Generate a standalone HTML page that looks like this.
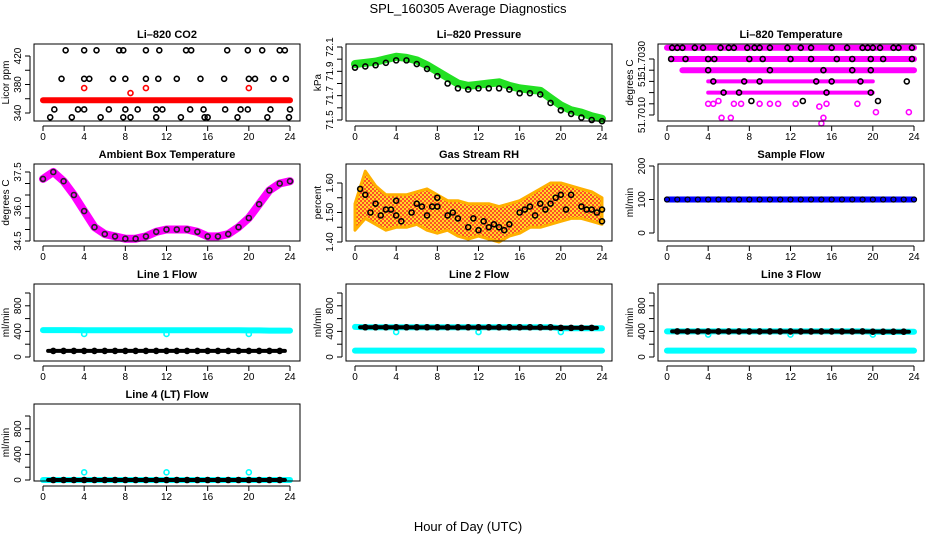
<!DOCTYPE html>
<html><head><meta charset="utf-8"><style>
html,body{margin:0;padding:0;background:#fff;}
svg{display:block;font-family:"Liberation Sans",sans-serif;}
</style></head><body>
<svg id="c" width="936" height="540">
<defs>
<pattern id="rhpat" width="4" height="4" patternUnits="userSpaceOnUse">
<rect width="4" height="4" fill="#ffd000"/>
<rect x="0" y="0" width="2" height="2" fill="#ff3000"/>
<rect x="2" y="2" width="2" height="2" fill="#ff3000"/>
</pattern>
</defs>
<text x="468" y="13" text-anchor="middle" font-size="13">SPL_160305  Average Diagnostics</text>
<text x="468" y="531" text-anchor="middle" font-size="13">Hour of Day (UTC)</text>
</svg>
<script>
// ---------- data ----------
const hours=[0,1,2,3,4,5,6,7,8,9,10,11,12,13,14,15,16,17,18,19,20,21,22,23,24];
const xTicks=[0,4,8,12,16,20,24];
// CO2
const co2BandVals=[358,358,358,358,358,358,358,358,358,358,358,358,358,358,358,358,358,358,358,358,358,358,358,358,358];
const co2RedX=[4,8.5,10,20];
const co2RedY=[375,368,375,375];
const co2BlackX=[2.2,4,5.2,7.4,7.8,10,11.3,13.9,14.4,17.9,19.9,21.3,23,23.5,1.8,4,4.5,6.8,8,10,11.2,13,15.3,17.6,20,20.6,22.4,23.6,1.1,3.4,4,6.4,8,9.2,11,11.6,14.3,15.6,17.7,19.2,19.9,22.1,24,0.7,2.8,5.6,7.8,8.5,11,13.4,15.7,16,18.9,21.8,23.9];
const co2BlackY=[428,428,428,428,428,428,428,428,428,428,428,428,428,428,388,388,388,388,388,388,388,388,388,388,388,388,388,388,345,345,345,345,345,345,345,345,345,345,345,345,345,345,345,334,334,334,334,334,334,334,334,334,334,334,334];
// Pressure
const presGreen=[71.96,71.97,71.98,72.0,72.02,72.01,71.99,71.95,71.9,71.85,71.8,71.78,71.79,71.8,71.81,71.78,71.76,71.75,71.74,71.68,71.62,71.58,71.56,71.53,71.51];
const presBlack=[71.93,71.94,71.95,71.97,71.99,71.99,71.96,71.92,71.86,71.8,71.76,71.75,71.76,71.76,71.76,71.75,71.72,71.72,71.71,71.64,71.58,71.55,71.52,71.5,71.49];
// Li-820 temperature (levels)
const tempSegStart=[0,0.5,1.5,4,4];
const tempSegEnd=[24,24,24,20,20];
const tempSegLvl=[51.7034,51.7030,51.7026,51.7022,51.7018];
const tempMagX=[4,4.5,5,6.5,7.2,9,10,10.8,12.5,14.8,15.5,18.5,20.3,23.5,5.3,6.2,15,15.2];
const tempMagY=[51.7014,51.7014,51.7015,51.7014,51.7014,51.7014,51.7014,51.7014,51.7014,51.7013,51.7014,51.7014,51.7011,51.7011,51.7009,51.7009,51.7007,51.7009];
const tempBlackX=[0.5,1,1.5,2.7,3.5,5.2,6,6.5,7.8,8.5,9,10,11.7,13,14,16,17.5,19,19.5,20,20.7,22,22.5,23.8,0.4,1.8,4,4.6,8,9.3,12,14,16.5,18,19.8,21,23.8,4,10,15.2,18,19.8,4.5,7.5,9,14.5,16,18.8,23.3,5.5,7,15.5,19.8,8.2,13.2,20.5];
const tempBlackY=[51.7034,51.7034,51.7034,51.7034,51.7034,51.7034,51.7034,51.7034,51.7034,51.7034,51.7034,51.7034,51.7034,51.7034,51.7034,51.7034,51.7034,51.7034,51.7034,51.7034,51.7034,51.7034,51.7034,51.7034,51.7030,51.7030,51.7030,51.7030,51.7030,51.7030,51.7030,51.7030,51.7030,51.7030,51.7030,51.7030,51.7030,51.7026,51.7026,51.7026,51.7026,51.7026,51.7022,51.7022,51.7022,51.7022,51.7022,51.7022,51.7022,51.7018,51.7018,51.7018,51.7018,51.7015,51.7015,51.7015];
// Ambient box temperature
const ambVals=[37.2,37.5,37.1,36.5,35.8,35.1,34.8,34.7,34.6,34.6,34.7,34.9,35.0,35.0,35.0,34.9,34.7,34.7,34.8,35.1,35.5,36.1,36.7,37.0,37.1];
// Gas stream RH
const rhLow=[1.44,1.48,1.46,1.44,1.45,1.45,1.46,1.44,1.43,1.44,1.42,1.41,1.42,1.41,1.40,1.42,1.43,1.45,1.45,1.46,1.47,1.48,1.48,1.47,1.46];
const rhHigh=[1.53,1.64,1.59,1.56,1.56,1.56,1.57,1.58,1.56,1.54,1.54,1.53,1.53,1.53,1.52,1.53,1.54,1.56,1.58,1.60,1.60,1.59,1.58,1.57,1.55];
const rhBlackX=[0.5,1,1.5,2,2.5,3,3.5,4,4,4.5,5.5,6,6.5,7,7.5,8,8,9,9.5,10,11,11.5,12,12.5,13,13.5,14,14.5,15,16,16.5,17,17.5,18,18.5,19,19.5,20,20.5,21,22,22.5,23,23.5,24,24];
const rhBlackY=[1.58,1.56,1.50,1.53,1.49,1.51,1.51,1.49,1.54,1.47,1.50,1.53,1.52,1.49,1.52,1.52,1.55,1.49,1.50,1.48,1.45,1.48,1.44,1.47,1.45,1.46,1.45,1.44,1.46,1.50,1.51,1.52,1.49,1.53,1.51,1.53,1.55,1.56,1.51,1.56,1.52,1.51,1.51,1.50,1.51,1.47];
// Flows
const sampleFlow=[100,100,100,100,100,100,100,100,100,100,100,100,100,100,100,100,100,100,100,100,100,100,100,100,100];
const l1Cyan=[420,420,420,420,418,418,418,418,418,418,418,418,418,418,418,418,418,418,418,418,415,415,412,412,412];
const l1Black=[95,95,95,95,95,95,95,95,95,95,95,95,95,95,95,95,95,95,95,95,95,95,95,95,95];
const l2CyanHi=[470,465,465,465,465,465,465,465,465,465,465,465,465,465,465,465,465,465,465,465,450,450,450,450,450];
const l2CyanLo=[100,100,100,100,100,100,100,100,100,100,100,100,100,100,100,100,100,100,100,100,100,100,100,100,100];
const l2Black=[465,465,465,465,465,465,465,465,465,465,465,465,465,465,465,465,465,465,465,465,455,455,455,455,455];
const l3CyanHi=[400,400,400,400,400,400,400,400,400,400,400,400,400,400,400,400,400,400,400,400,395,395,395,395,395];
const l3CyanLo=[100,100,100,100,100,100,100,100,100,100,100,100,100,100,100,100,100,100,100,100,100,100,100,100,100];
const l3Black=[400,400,400,400,400,400,400,400,400,400,400,400,400,400,400,400,400,400,400,400,395,395,395,395,395];
const l4Cyan=[0,0,0,0,0,0,0,0,0,0,0,0,0,0,0,0,0,0,0,0,0,0,0,0,0];
const l4Black=[0,0,0,0,0,0,0,0,0,0,0,0,0,0,0,0,0,0,0,0,0,0,0,0,0];
const dipX=[4,12,20];
const l1DipY=[360,360,360];
const l2DipY=[390,390,390];
const l3DipY=[350,350,350];
const l4OutY=[120,120,120];

// ---------- drawing ----------
const svg=document.getElementById('c');
const NS='http://www.w3.org/2000/svg';
function mk(tag,attrs,parent){const e=document.createElementNS(NS,tag);for(const k in attrs)e.setAttribute(k,attrs[k]);(parent||svg).appendChild(e);return e;}
const colX=[43,355,667];
const rowTop=[44,164,284,404];
const rowBot=[121,241,361,481];
function panel(col,row,title,ylab,yMin,yMax,yLoPix,yHiPix,ticks,tickLabels,name){
  const g=mk('g',{});
  
  
  const x0=colX[col],L=x0-9,R=x0+257,T=rowTop[row],B=rowBot[row];
  const sx=h=>x0+h*247/24;
  const sy=v=>yLoPix+(v-yMin)*(yHiPix-yLoPix)/(yMax-yMin);
  const t=mk('text',{x:(L+R)/2,y:T-6,'text-anchor':'middle','font-size':11,'font-weight':'bold'},g);t.textContent=title;
  
  const pg=mk('g',{},g);
  const box=mk('rect',{x:L,y:T,width:R-L,height:B-T,fill:'none',stroke:'#000','stroke-width':1},g);
  
  const xa=mk('g',{},g);
  mk('line',{x1:sx(0),x2:sx(24),y1:B+5,y2:B+5,stroke:'#000'},xa);
  xTicks.forEach(h=>{mk('line',{x1:sx(h),x2:sx(h),y1:B+5,y2:B+10,stroke:'#000'},xa);
    const tl=mk('text',{x:sx(h),y:B+19,'text-anchor':'middle','font-size':10},xa);tl.textContent=h;});
  const ya=mk('g',{},g);
  const ax=L-4;
  mk('line',{x1:ax,x2:ax,y1:sy(ticks[0]),y2:sy(ticks[ticks.length-1]),stroke:'#000'},ya);
  ticks.forEach((v,i)=>{mk('line',{x1:ax,x2:ax-5,y1:sy(v),y2:sy(v),stroke:'#000'},ya);
    if(tickLabels[i]!==''){const tl=mk('text',{x:ax-9,y:sy(v),'text-anchor':'middle','font-size':10,transform:`rotate(-90 ${ax-9} ${sy(v)})`},ya);tl.textContent=tickLabels[i];}});
  const yl=mk('text',{x:L-25,y:(T+B)/2,'text-anchor':'middle','font-size':10,transform:`rotate(-90 ${L-25} ${(T+B)/2})`},ya);yl.textContent=ylab;
  
  return {g:pg,sx,sy};
}
function pts(p,xs,ys,color,name,r,sw,fill){
  const gg=mk('g',{},p.g);
  
  
  xs.forEach((x,i)=>{mk('circle',{cx:p.sx(x),cy:p.sy(ys[i]),r:r||2.5,fill:fill||'none',stroke:color,'stroke-width':sw||1.6},gg);});
}
function band(p,xs,ys,color,name,w){
  const d=xs.map((x,i)=>(i?'L':'M')+p.sx(x).toFixed(1)+','+p.sy(ys[i]).toFixed(1)).join('');
  const e=mk('path',{d:d,fill:'none',stroke:color,'stroke-width':w||7,'stroke-linejoin':'round','stroke-linecap':'round'},p.g);
  
  
}
const flowTicks=[0,200,400,600,800,1000];
const flowLabels=['0','','400','','800',''];

let p=panel(0,0,'Li–820 CO2','Licor ppm',340,420,113,56,[340,360,380,400,420],['340','','380','','420'],'co2');
band(p,hours,co2BandVals,'#ff0000','co2-red-band',6);
pts(p,co2RedX,co2RedY,'#ff0000','co2-red-points');
pts(p,co2BlackX,co2BlackY,'#000','co2-black-points');

p=panel(1,0,'Li–820 Pressure','kPa',71.5,72.1,120,47,[71.5,71.6,71.7,71.8,71.9,72.0,72.1],['71.5','','71.7','','71.9','','72.1'],'pressure');
band(p,hours,presGreen,'#22e022','pressure-green-band',8);
pts(p,hours,presBlack,'#000','pressure-black-points');

p=panel(2,0,'Li–820 Temperature','degrees C',51.7010,51.7030,115,59,[51.7010,51.7014,51.7018,51.7022,51.7026,51.7030],['51.7010','','','51','','51.7030'],'li820-temp');
tempSegStart.forEach((s,i)=>{band(p,[s,tempSegEnd[i]],[tempSegLvl[i],tempSegLvl[i]],'#ff00ff','temp-magenta-row',i>2?4:6);});
pts(p,tempMagX,tempMagY,'#ff00ff','temp-magenta-points');
pts(p,tempBlackX,tempBlackY,'#000','temp-black-points');

p=panel(0,1,'Ambient Box Temperature','degrees C',34.5,37.5,241,172,[34.5,35,35.5,36,36.5,37,37.5],['34.5','','','36.0','','','37.5'],'ambient');
band(p,hours,ambVals,'#ff00ff','ambient-magenta-band',8);
pts(p,hours,ambVals,'#222','ambient-black-points');

p=panel(1,1,'Gas Stream RH','percent',1.40,1.60,242,183,[1.40,1.45,1.50,1.55,1.60],['1.40','','1.50','','1.60'],'rh');
{const d='M'+hours.map((h,i)=>p.sx(h).toFixed(1)+','+p.sy(rhHigh[i]).toFixed(1)).join('L')+'L'+hours.slice().reverse().map((h,j)=>{const i=hours.length-1-j;return p.sx(h).toFixed(1)+','+p.sy(rhLow[i]).toFixed(1);}).join('L')+'Z';
 const e=mk('path',{d:d,fill:'url(#rhpat)',stroke:'#ffb000','stroke-width':3,'stroke-linejoin':'round','fill-opacity':0.85},p.g);
 
 }
pts(p,rhBlackX,rhBlackY,'#000','rh-black-points');

p=panel(2,1,'Sample Flow','ml/min',0,200,233,166,[0,100,200],['0','100','200'],'sample-flow');
band(p,hours,sampleFlow,'#0000ff','sample-flow-blue-band',6);
pts(p,hours,sampleFlow,'#000','sample-flow-black-points',2.5,1.2);

p=panel(0,2,'Line 1 Flow','ml/min',0,1000,357,293,flowTicks,flowLabels,'line1');
band(p,hours,l1Cyan,'#00ffff','line1-cyan-band',6);
pts(p,dipX,l1DipY,'#00ffff','line1-cyan-dips');
band(p,[0.5,23.5],[l1Black[0],l1Black[24]],'#000','line1-black-band',4);
pts(p,hours.slice(1,24),l1Black.slice(1,24),'#000','line1-black-points');

p=panel(1,2,'Line 2 Flow','ml/min',0,1000,357,293,flowTicks,flowLabels,'line2');
band(p,hours,l2CyanHi,'#00ffff','line2-cyan-high-band',6);
band(p,hours,l2CyanLo,'#00ffff','line2-cyan-low-band',6);
pts(p,dipX,l2DipY,'#00ffff','line2-cyan-dips');
band(p,[0.5,23.5],[l2Black[0],l2Black[24]],'#000','line2-black-band',4);
pts(p,hours.slice(1,24),l2Black.slice(1,24),'#000','line2-black-points');

p=panel(2,2,'Line 3 Flow','ml/min',0,1000,357,293,flowTicks,flowLabels,'line3');
band(p,hours,l3CyanHi,'#00ffff','line3-cyan-high-band',6);
band(p,hours,l3CyanLo,'#00ffff','line3-cyan-low-band',6);
pts(p,dipX,l3DipY,'#00ffff','line3-cyan-dips');
band(p,[0.5,23.5],[l3Black[0],l3Black[24]],'#000','line3-black-band',4);
pts(p,hours.slice(1,24),l3Black.slice(1,24),'#000','line3-black-points');

p=panel(0,3,'Line 4 (LT) Flow','ml/min',0,1000,480,416,flowTicks,flowLabels,'line4');
band(p,hours,l4Cyan,'#00ffff','line4-cyan-band',6);
pts(p,dipX,l4OutY,'#00ffff','line4-cyan-outliers');
band(p,[0.5,23.5],[l4Black[0],l4Black[24]],'#000','line4-black-band',4);
pts(p,hours.slice(1,24),l4Black.slice(1,24),'#000','line4-black-points');
</script>
</body></html>
